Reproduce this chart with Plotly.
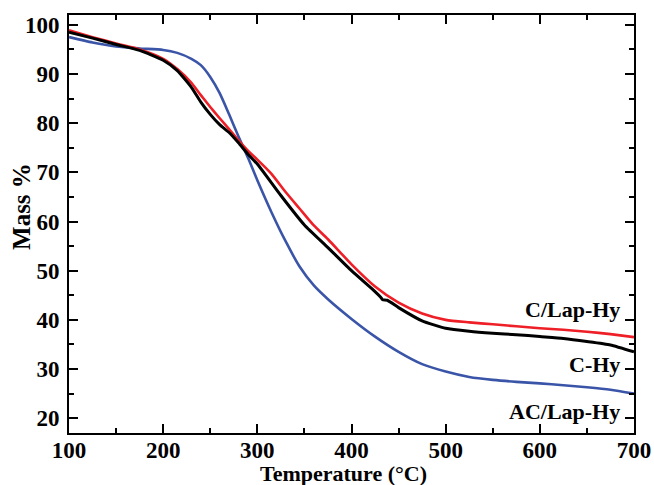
import plotly.graph_objects as go

temp_c = [100, 125, 150, 175, 200, 215, 230, 240, 250, 260, 270, 280, 290, 300, 325, 350, 375, 400, 423,
          431, 433, 438, 450, 475, 500, 525, 550, 575, 600, 625, 650, 675, 700]
mass_c_hy = [98.5, 97.3, 96.0, 94.8, 92.8, 90.7, 87.3, 84.3, 81.8, 79.7, 78.1, 76.0, 73.7, 71.7, 65.3,
             59.3, 54.7, 50.0, 46.1, 44.6, 44.1, 44.0, 42.5, 39.8, 38.3, 37.7, 37.3, 37.0, 36.6, 36.2,
             35.6, 34.9, 33.5]

temp = [100, 125, 150, 175, 200, 215, 230, 240, 250, 260, 270, 280, 290, 300, 315, 330, 345, 360, 375,
        400, 425, 450, 475, 500, 525, 550, 575, 600, 625, 650, 675, 700]
mass_c_lap = [98.9, 97.5, 96.2, 95.0, 93.1, 91.0, 88.2, 85.7, 83.3, 81.0, 78.8, 76.5, 74.4, 72.6, 69.7,
              66.0, 62.6, 59.2, 56.4, 51.3, 46.8, 43.5, 41.3, 40.0, 39.5, 39.1, 38.7, 38.3, 38.0, 37.6,
              37.1, 36.5]
mass_ac_lap = [97.5, 96.4, 95.6, 95.2, 94.9, 94.3, 93.1, 91.8, 89.4, 86.1, 81.8, 77.3, 73.0, 68.4, 61.9,
               56.0, 50.8, 47.0, 44.2, 40.2, 36.6, 33.5, 31.0, 29.5, 28.4, 27.8, 27.4, 27.1, 26.7, 26.3,
               25.8, 25.0]

labels = ["C/Lap-Hy", "C-Hy", "AC/Lap-Hy"]
label_y = [42.1, 30.9, 21.3]

FONT = "Liberation Serif"

fig = go.Figure()
fig.add_trace(go.Scatter(x=temp, y=mass_ac_lap, mode="lines",
                         line=dict(color="#3a55a8", width=2.6, shape="spline", smoothing=0.6)))
fig.add_trace(go.Scatter(x=temp, y=mass_c_lap, mode="lines",
                         line=dict(color="#ee1f26", width=2.6, shape="spline", smoothing=0.6)))
fig.add_trace(go.Scatter(x=temp_c, y=mass_c_hy, mode="lines",
                         line=dict(color="#000000", width=3, shape="spline", smoothing=0.5)))

for t, y in zip(labels, label_y):
    fig.add_annotation(x=687.5, y=y, text=t, showarrow=False, xanchor="right", yanchor="middle",
                       font=dict(family=FONT, size=22, color="#000000", weight="bold"))

# axis titles
fig.add_annotation(xref="paper", yref="paper", x=-0.083, y=0.541, text="Mass %", textangle=-90,
                   showarrow=False, xanchor="center", yanchor="middle",
                   font=dict(family=FONT, size=25, color="black", weight="bold"))
fig.add_annotation(xref="paper", yref="paper", x=0.485, y=-0.097, text="Temperature (°C)",
                   showarrow=False, xanchor="center", yanchor="middle",
                   font=dict(family=FONT, size=22, color="black", weight="bold"))

axis_common = dict(showgrid=False, zeroline=False, showline=True, linecolor="black", linewidth=2,
                   mirror="allticks", ticks="inside", ticklen=9, tickwidth=2, tickcolor="black",
                   automargin=False,
                   tickfont=dict(family=FONT, size=23, color="black", weight="bold"))

fig.update_xaxes(range=[100, 700], dtick=100, tick0=100, ticklabelstandoff=-5,
                 minor=dict(dtick=50, ticks="inside", ticklen=5, tickwidth=2, tickcolor="black"),
                 **axis_common)
fig.update_yaxes(range=[17, 102], dtick=10, tick0=20, ticklabelstandoff=3,
                 minor=dict(dtick=5, ticks="inside", ticklen=5, tickwidth=2, tickcolor="black"),
                 **axis_common)

fig.update_layout(width=654, height=485, showlegend=False,
                  margin=dict(l=69, r=20, t=15, b=52),
                  plot_bgcolor="white", paper_bgcolor="white")

fig.write_html("out.html")
